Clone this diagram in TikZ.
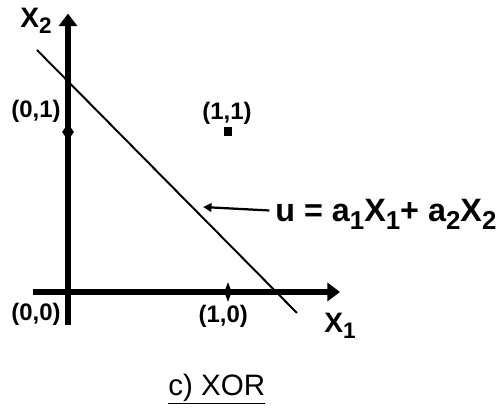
\documentclass[tikz,border=0pt]{standalone}
\usepackage{fontspec}
\setmainfont{Liberation Sans}
\usetikzlibrary{arrows.meta,positioning,calc}
\newcommand{\lowsub}[1]{\raisebox{-0.45ex}{\scalebox{0.8}{#1}}}

\begin{document}
\begin{tikzpicture}[x=4cm,y=4cm,
    axis/.style={line width=3.6pt, -{Triangle[length=9pt,width=13pt]}},
    sepline/.style={line width=1.4pt},
    coordlabel/.style={font=\fontsize{17}{19}\selectfont\bfseries, inner sep=0pt},
    axislabel/.style={font=\fontsize{20}{22}\selectfont\bfseries, inner sep=0pt}]
    \useasboundingbox (-0.425,-0.744) rectangle (2.719,1.825);
    % axes through the origin
    \coordinate (O) at (0,0);
    \coordinate (xstart) at (-0.22,0);
    \coordinate (xend) at (1.70,0);
    \coordinate (ystart) at (0,-0.206);
    \coordinate (yend) at (0,1.74);
    \draw[axis] (xstart) -- (xend);
    \draw[axis] (ystart) -- (yend);
    % tick bulges at (1,0) and (0,1)
    \fill (1,0) ++(0,7pt) -- ++(2.6pt,-7pt) -- ++(-2.6pt,-7pt) -- ++(-2.6pt,7pt) -- cycle;
    \fill (0,1) ++(0,6pt) -- ++(4.2pt,-6pt) -- ++(-4.2pt,-6pt) -- ++(-4.2pt,6pt) -- cycle;
    \fill (O) circle (2.8pt);
    % the point (1,1)
    \fill (1,1) ++(-2.6pt,-3.2pt) rectangle ++(5.2pt,6.4pt);
    % separating line
    \coordinate (lineA) at (-0.194,1.5125);
    \coordinate (lineB) at (1.431,-0.131);
    \draw[sepline] (lineA) -- (lineB);
    % labels
    \node[axislabel] (xtwo) at (-0.2,1.694) {X\lowsub{2}};
    \node[axislabel] (xone) at (1.7,-0.2125) {X\lowsub{1}};
    \node[coordlabel] (p01) at (-0.2,1.131) {(0,1)};
    \node[coordlabel] (p11) at (0.994,1.116) {(1,1)};
    \node[coordlabel] (p00) at (-0.2,-0.1375) {(0,0)};
    \node[coordlabel] (p10) at (0.97,-0.15) {(1,0)};
    % equation of the line with its pointer
    \node[font=\fontsize{23}{27}\selectfont\bfseries, inner sep=0pt, anchor=base west]
      (eq) at (1.294,0.4375) {u = a\lowsub{1}X\lowsub{1}+ a\lowsub{2}X\lowsub{2}};
    \coordinate (tip) at (0.844,0.531);
    \draw[line width=1.6pt, -{Triangle[length=6pt,width=6pt]}] ([xshift=-4pt,yshift=3pt]eq.west) -- (tip);
    % caption
    \node[font=\fontsize{21}{24}\selectfont, inner sep=0pt, anchor=base] (caption)
      at (0.93,-0.644) {\underline{c) XOR}};
\end{tikzpicture}
\end{document}
